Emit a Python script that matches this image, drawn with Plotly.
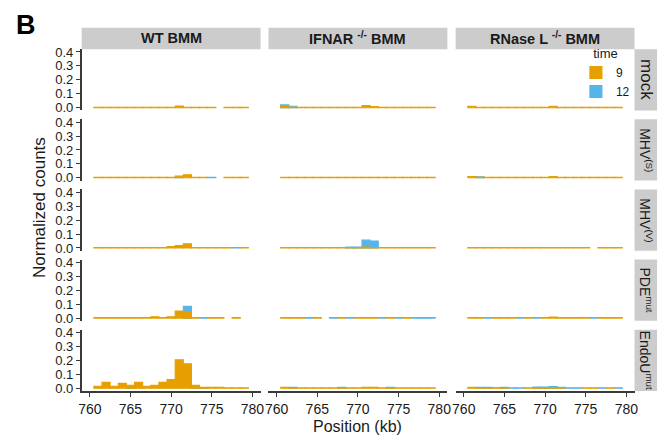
import plotly.graph_objects as go

# ---- data -------------------------------------------------------------
POSITIONS = list(range(761, 780))          # 1-kb bins, centred on each kb
GENOTYPES = ["WT BMM", "IFNAR <sup>-/-</sup> BMM", "RNase L <sup>-/-</sup> BMM"]
CONDITIONS = ["mock", "MHV<sup>(S)</sup>", "MHV<sup>(V)</sup>",
              "PDE<sup>mut</sup>", "EndoU<sup>mut</sup>"]
TIMES = ["9", "12"]
TIME_COLORS = {"9": "#E69F00", "12": "#56B4E9"}
X_TICKS = [760, 765, 770, 775, 780]
Y_TICKS = [0.0, 0.1, 0.2, 0.3, 0.4]
Y_TICK_TEXT = ["0.0", "0.1", "0.2", "0.3", "0.4"]

N = None
#                761    762    763    764    765    766    767    768    769    770    771    772    773    774    775    776    777    778    779
wt_mock_9 =     [0.003, 0.003, 0.003, 0.003, 0.003, 0.003, 0.003, 0.003, 0.003, 0.003, 0.012, 0.003, 0.003, 0.003, 0.003, N,     0.003, 0.003, 0.003]
wt_mock_12 =    [N,     N,     N,     N,     N,     N,     N,     N,     N,     N,     N,     N,     N,     N,     N,     N,     N,     N,     N]
ifnar_mock_9 =  [0.015, 0.003, 0.003, 0.003, 0.003, 0.003, 0.003, 0.003, 0.003, 0.003, 0.015, 0.008, 0.003, 0.003, 0.003, 0.003, 0.003, 0.003, 0.003]
ifnar_mock_12 = [0.020, 0.010, N,     N,     N,     N,     N,     N,     N,     N,     N,     N,     N,     N,     N,     N,     N,     N,     N]
rnl_mock_9 =    [0.010, 0.003, 0.003, 0.003, 0.003, 0.003, 0.003, 0.003, 0.003, 0.003, 0.010, 0.003, 0.003, 0.003, 0.003, 0.003, 0.003, 0.003, 0.003]
rnl_mock_12 =   [N,     N,     N,     N,     N,     N,     N,     N,     N,     N,     N,     N,     N,     N,     N,     N,     N,     N,     N]

wt_mhvs_9 =     [0.003, 0.003, 0.003, 0.003, 0.003, 0.003, 0.003, 0.003, 0.003, 0.003, 0.012, 0.022, 0.003, 0.003, N,     N,     0.003, 0.003, 0.003]
wt_mhvs_12 =    [N,     N,     N,     N,     N,     N,     N,     N,     N,     N,     0.003, N,     N,     N,     0.003, N,     N,     N,     N]
ifnar_mhvs_9 =  [0.003, 0.003, 0.003, 0.003, 0.003, 0.003, 0.003, 0.003, 0.003, 0.003, 0.003, 0.003, 0.003, 0.003, 0.003, 0.003, 0.003, 0.003, 0.003]
ifnar_mhvs_12 = [N,     N,     N,     N,     N,     N,     N,     N,     N,     N,     N,     N,     N,     N,     N,     N,     N,     N,     N]
rnl_mhvs_9 =    [0.010, 0.003, 0.003, 0.003, 0.003, 0.003, 0.003, 0.003, 0.003, 0.003, 0.010, 0.003, 0.003, 0.003, 0.003, 0.003, 0.003, 0.003, 0.003]
rnl_mhvs_12 =   [N,     0.008, N,     N,     N,     N,     N,     N,     N,     N,     N,     N,     N,     N,     N,     N,     N,     N,     N]

wt_mhvv_9 =     [0.003, 0.003, 0.003, 0.003, 0.003, 0.003, 0.003, 0.003, 0.003, 0.010, 0.017, 0.030, 0.003, 0.003, 0.003, 0.003, 0.003, N,     0.003]
wt_mhvv_12 =    [N,     N,     N,     N,     N,     N,     N,     N,     N,     N,     N,     N,     N,     N,     N,     N,     N,     0.003, N]
ifnar_mhvv_9 =  [0.003, 0.003, 0.003, 0.003, 0.003, 0.003, 0.003, 0.003, 0.003, 0.003, 0.006, 0.003, 0.003, 0.003, 0.003, 0.003, 0.003, 0.003, 0.003]
ifnar_mhvv_12 = [N,     N,     N,     N,     N,     N,     N,     N,     0.007, 0.007, 0.056, 0.050, N,     N,     N,     N,     N,     N,     N]
rnl_mhvv_9 =    [0.003, 0.003, 0.003, 0.003, 0.003, 0.003, 0.003, 0.003, 0.003, 0.003, 0.003, 0.003, 0.003, 0.003, 0.003, N,     0.003, 0.003, 0.003]
rnl_mhvv_12 =   [N,     N,     N,     N,     N,     N,     N,     N,     N,     N,     N,     N,     N,     N,     N,     N,     N,     N,     N]

wt_pde_9 =      [0.003, 0.003, 0.003, 0.003, 0.003, 0.003, 0.003, 0.010, 0.003, 0.010, 0.050, 0.044, 0.003, N,     0.003, 0.003, N,     0.003, N]
wt_pde_12 =     [N,     N,     N,     N,     N,     N,     N,     N,     N,     N,     N,     0.085, N,     0.003, N,     N,     N,     N,     N]
ifnar_pde_9 =   [0.003, 0.003, 0.003, N,     0.003, N,     N,     0.003, N,     0.003, 0.003, 0.003, N,     0.003, N,     0.003, N,     N,     N]
ifnar_pde_12 =  [N,     N,     N,     0.003, N,     N,     0.003, N,     0.003, N,     N,     N,     0.003, N,     0.003, N,     0.003, 0.003, 0.003]
rnl_pde_9 =     [0.003, 0.003, N,     0.003, 0.003, 0.003, N,     0.003, N,     0.003, 0.008, 0.003, 0.003, 0.003, 0.003, N,     0.003, 0.003, 0.003]
rnl_pde_12 =    [N,     N,     0.003, N,     N,     N,     0.003, N,     0.003, N,     N,     N,     N,     N,     N,     0.003, N,     N,     N]

wt_endo_9 =     [0.014, 0.042, 0.014, 0.035, 0.021, 0.042, 0.014, 0.021, 0.042, 0.063, 0.204, 0.176, 0.021, 0.007, 0.007, 0.007, 0.003, 0.003, 0.003]
wt_endo_12 =    [N,     N,     N,     N,     0.003, N,     N,     N,     N,     N,     N,     N,     0.003, 0.003, N,     N,     N,     N,     N]
ifnar_endo_9 =  [0.007, 0.003, 0.003, 0.003, 0.003, 0.003, 0.003, 0.003, 0.003, 0.003, 0.006, 0.006, 0.003, 0.003, 0.003, 0.003, 0.003, 0.003, 0.003]
ifnar_endo_12 = [N,     0.007, N,     N,     N,     N,     N,     0.007, N,     N,     N,     N,     N,     0.007, N,     N,     N,     N,     N]
rnl_endo_9 =    [0.007, 0.003, 0.003, 0.005, 0.003, N,     N,     0.003, 0.003, 0.003, 0.003, 0.003, N,     N,     0.003, 0.003, N,     0.003, N]
rnl_endo_12 =   [N,     0.007, 0.007, N,     0.007, 0.003, 0.003, N,     0.008, 0.008, 0.012, 0.007, 0.003, 0.003, N,     N,     0.003, N,     0.003]

PANELS = [
    [(wt_mock_9, wt_mock_12), (ifnar_mock_9, ifnar_mock_12), (rnl_mock_9, rnl_mock_12)],
    [(wt_mhvs_9, wt_mhvs_12), (ifnar_mhvs_9, ifnar_mhvs_12), (rnl_mhvs_9, rnl_mhvs_12)],
    [(wt_mhvv_9, wt_mhvv_12), (ifnar_mhvv_9, ifnar_mhvv_12), (rnl_mhvv_9, rnl_mhvv_12)],
    [(wt_pde_9, wt_pde_12), (ifnar_pde_9, ifnar_pde_12), (rnl_pde_9, rnl_pde_12)],
    [(wt_endo_9, wt_endo_12), (ifnar_endo_9, ifnar_endo_12), (rnl_endo_9, rnl_endo_12)],
]

# ---- layout geometry (pixels) -------------------------------------------
W, H = 668, 444
FONT = "Liberation Sans, Arial, sans-serif"
COL_LEFT = [79.5, 268.3, 457.4]
COL_W = 180.8
ROW_TOP = 45.2
ROW_PITCH = 71.75
ROW_H = 62.7
STRIP_TOP = 23.3
STRIP_RIGHT = 661.0
STRIP_GREY = "#cccccc"
AXIS_COLOR = "#3a3a3a"
TEXT_COLOR = "#1a1a1a"


def px(x):
    return x / W


def py(y):
    return 1 - y / H


fig = go.Figure()
layout = dict(
    width=W, height=H,
    margin=dict(l=0, r=0, t=0, b=0),
    paper_bgcolor="white", plot_bgcolor="white",
    barmode="overlay",
    font=dict(family=FONT, color=TEXT_COLOR, size=14),
    showlegend=True,
    legend=dict(
        title=dict(text="time", side="top center",
                   font=dict(size=13, family=FONT, color=TEXT_COLOR)),
        x=px(579), y=py(37), xanchor="left", yanchor="top",
        font=dict(size=12, family=FONT, color=TEXT_COLOR),
        bgcolor="rgba(0,0,0,0)", borderwidth=0,
        itemwidth=30, tracegroupgap=0,
    ),
)

shapes = []
annotations = []

for r in range(5):
    top = ROW_TOP + r * ROW_PITCH
    for c in range(3):
        k = r * 3 + c + 1
        left = COL_LEFT[c]
        xa = "xaxis" if k == 1 else f"xaxis{k}"
        ya = "yaxis" if k == 1 else f"yaxis{k}"
        xref = "x" if k == 1 else f"x{k}"
        yref = "y" if k == 1 else f"y{k}"
        bottom_row = r == 4
        left_col = c == 0
        layout[xa] = dict(
            domain=[px(left), px(left + COL_W)], range=[759, 781],
            anchor=yref, showgrid=False, zeroline=False,
            tickvals=X_TICKS, showticklabels=bottom_row,
            ticks="outside" if bottom_row else "", ticklen=4, tickwidth=1.3,
            tickcolor=AXIS_COLOR, showline=bottom_row, linecolor=AXIS_COLOR,
            linewidth=1.6, tickfont=dict(size=14, family=FONT, color=TEXT_COLOR),
        )
        layout[ya] = dict(
            domain=[py(top + ROW_H), py(top)], range=[-0.02, 0.42],
            anchor=xref, showgrid=False, zeroline=False,
            tickvals=Y_TICKS, ticktext=Y_TICK_TEXT, showticklabels=left_col,
            ticks="outside" if left_col else "", ticklen=4, tickwidth=1.3,
            tickcolor=AXIS_COLOR, showline=left_col, linecolor=AXIS_COLOR,
            linewidth=1.6, tickfont=dict(size=13, family=FONT, color=TEXT_COLOR),
        )
        t9, t12 = PANELS[r][c]
        # 12 h drawn first so the 9 h bars sit on top of it
        for name, vals, rank in (("12", t12, 2), ("9", t9, 1)):
            col = TIME_COLORS[name]
            fig.add_trace(go.Bar(
                x=POSITIONS, y=vals, width=1.0, name=name,
                marker=dict(color=col, line=dict(color=col, width=1.1)),
                xaxis=xref, yaxis=yref, legendgroup=name, legendrank=rank,
                showlegend=(k == 1), hoverinfo="skip",
            ))

# column strips
for c, label in enumerate(GENOTYPES):
    left = COL_LEFT[c]
    shapes.append(dict(type="rect", xref="paper", yref="paper",
                       x0=px(left), x1=px(left + COL_W), y0=py(ROW_TOP), y1=py(STRIP_TOP),
                       fillcolor=STRIP_GREY, line=dict(width=0), layer="below"))
    annotations.append(dict(text=f"<b>{label}</b>", xref="paper", yref="paper",
                            x=px(left + COL_W / 2), y=py((ROW_TOP + STRIP_TOP) / 2),
                            xanchor="center", yanchor="middle", showarrow=False,
                            font=dict(size=14.5, family=FONT, color=TEXT_COLOR)))

# row strips
right_edge = COL_LEFT[2] + COL_W
for r, label in enumerate(CONDITIONS):
    top = ROW_TOP + r * ROW_PITCH
    shapes.append(dict(type="rect", xref="paper", yref="paper",
                       x0=px(right_edge), x1=px(STRIP_RIGHT), y0=py(top + ROW_H), y1=py(top),
                       fillcolor=STRIP_GREY, line=dict(width=0), layer="below"))
    annotations.append(dict(text=label, xref="paper", yref="paper",
                            x=px((right_edge + STRIP_RIGHT) / 2), y=py(top + ROW_H / 2),
                            xanchor="center", yanchor="middle", showarrow=False,
                            textangle=90,
                            font=dict(size=17 if r == 0 else 14, family=FONT, color=TEXT_COLOR)))

# panel letter and axis titles
annotations.append(dict(text="<b>B</b>", xref="paper", yref="paper",
                        x=px(11), y=py(3), xanchor="left", yanchor="top", showarrow=False,
                        font=dict(size=27, family=FONT, color="black")))
annotations.append(dict(text="Normalized counts", xref="paper", yref="paper",
                        x=px(37), y=py(207), xanchor="center", yanchor="middle",
                        showarrow=False, textangle=-90,
                        font=dict(size=17, family=FONT, color=TEXT_COLOR)))
annotations.append(dict(text="Position (kb)", xref="paper", yref="paper",
                        x=px(358), y=py(431), xanchor="center", yanchor="middle",
                        showarrow=False, font=dict(size=16, family=FONT, color=TEXT_COLOR)))

layout["shapes"] = shapes
layout["annotations"] = annotations
fig.update_layout(**layout)

fig.write_html("out.html")
